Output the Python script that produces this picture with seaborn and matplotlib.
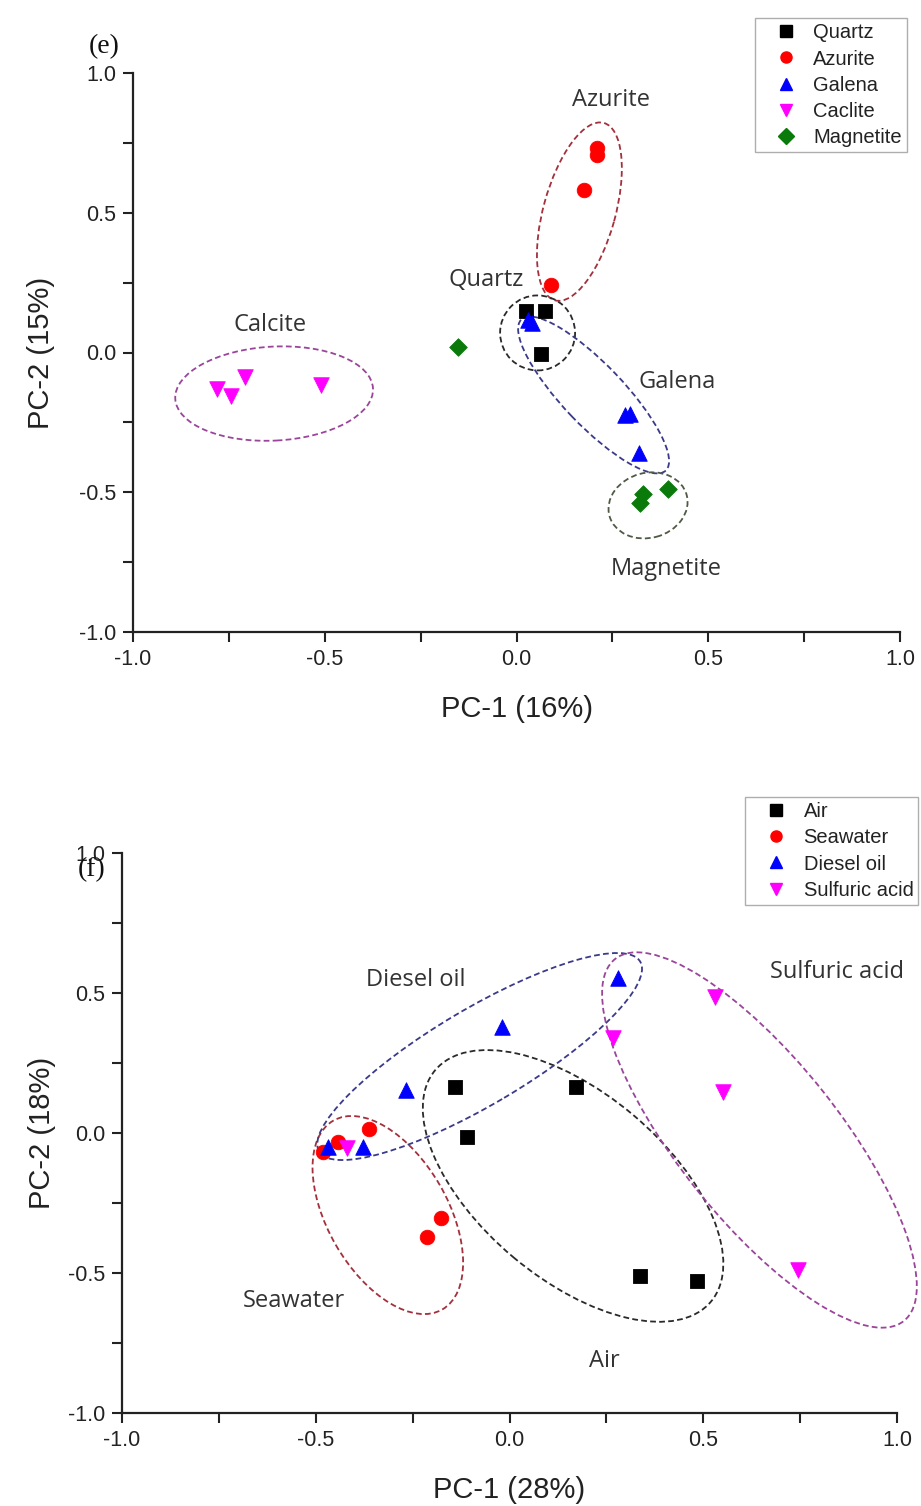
import numpy as np
import pandas as pd
import matplotlib
matplotlib.use("Agg")
import matplotlib.pyplot as plt
import matplotlib.transforms as mtransforms
from matplotlib.patches import Ellipse
from matplotlib.lines import Line2D
from matplotlib.ticker import MultipleLocator, FormatStrFormatter
import seaborn as sns

# ---------------- data: panel (e), minerals ----------------
e_groups = ["Quartz", "Azurite", "Galena", "Caclite", "Magnetite"]
quartz_pc1 = [0.025, 0.075, 0.065]
quartz_pc2 = [0.150, 0.150, -0.005]
azurite_pc1 = [0.210, 0.210, 0.176, 0.090]
azurite_pc2 = [0.733, 0.705, 0.583, 0.240]
galena_pc1 = [0.030, 0.040, 0.283, 0.295, 0.320]
galena_pc2 = [0.115, 0.105, -0.225, -0.220, -0.360]
caclite_pc1 = [-0.781, -0.744, -0.708, -0.510]
caclite_pc2 = [-0.129, -0.154, -0.089, -0.118]
magnetite_pc1 = [-0.152, 0.330, 0.322, 0.395]
magnetite_pc2 = [0.018, -0.505, -0.537, -0.490]

# ---------------- data: panel (f), environments ----------------
f_groups = ["Air", "Seawater", "Diesel oil", "Sulfuric acid"]
air_pc1 = [-0.141, 0.172, -0.110, 0.337, 0.484]
air_pc2 = [0.164, 0.164, -0.014, -0.511, -0.529]
seawater_pc1 = [-0.481, -0.443, -0.363, -0.177, -0.213]
seawater_pc2 = [-0.068, -0.032, 0.014, -0.304, -0.371]
diesel_pc1 = [-0.468, -0.378, -0.267, -0.019, 0.280]
diesel_pc2 = [-0.050, -0.050, 0.154, 0.379, 0.554]
sulfuric_pc1 = [-0.419, 0.267, 0.530, 0.551, 0.745]
sulfuric_pc2 = [-0.054, 0.339, 0.486, 0.146, -0.489]

e_xlabel, e_ylabel = "PC-1 (16%)", "PC-2 (15%)"
f_xlabel, f_ylabel = "PC-1 (28%)", "PC-2 (18%)"

# ---------------- styling ----------------
colors = ["#000000", "#ff0000", "#0000ff", "#ff00ff", "#0a7a0a"]
e_markers = ["s", "o", "^", "v", "D"]
e_sizes = [90, 110, 125, 125, 80]
f_markers = ["s", "o", "^", "v"]
f_sizes = [90, 110, 125, 125]

DPI = 100
sns.set_theme(style="ticks")
plt.rcParams["font.family"] = ["Liberation Sans", "DejaVu Sans"]
plt.rcParams["axes.unicode_minus"] = False

fig = plt.figure(figsize=(9.21, 15.06), dpi=DPI)
W, H = 921.0, 1506.0


def px_axes(l, t, r, b):
    return fig.add_axes([l / W, 1 - b / H, (r - l) / W, (b - t) / H])


ax_e = px_axes(133, 73, 900, 632)
ax_f = px_axes(122, 853, 897, 1413)

e_df = pd.concat([
    pd.DataFrame({"PC1": quartz_pc1, "PC2": quartz_pc2, "group": "Quartz"}),
    pd.DataFrame({"PC1": azurite_pc1, "PC2": azurite_pc2, "group": "Azurite"}),
    pd.DataFrame({"PC1": galena_pc1, "PC2": galena_pc2, "group": "Galena"}),
    pd.DataFrame({"PC1": caclite_pc1, "PC2": caclite_pc2, "group": "Caclite"}),
    pd.DataFrame({"PC1": magnetite_pc1, "PC2": magnetite_pc2, "group": "Magnetite"}),
], ignore_index=True)

f_df = pd.concat([
    pd.DataFrame({"PC1": air_pc1, "PC2": air_pc2, "group": "Air"}),
    pd.DataFrame({"PC1": seawater_pc1, "PC2": seawater_pc2, "group": "Seawater"}),
    pd.DataFrame({"PC1": diesel_pc1, "PC2": diesel_pc2, "group": "Diesel oil"}),
    pd.DataFrame({"PC1": sulfuric_pc1, "PC2": sulfuric_pc2, "group": "Sulfuric acid"}),
], ignore_index=True)


def add_ellipse(ax, cx, cy, w_px, h_px, angle, color):
    """Dashed cluster outline: centre in data units, size in pixels."""
    tr = fig.dpi_scale_trans + mtransforms.ScaledTranslation(cx, cy, ax.transData)
    ax.add_patch(Ellipse((0, 0), w_px / DPI, h_px / DPI, angle=angle,
                         transform=tr, fill=False, edgecolor=color,
                         linewidth=1.3, linestyle=(0, (3.2, 1.8)),
                         clip_on=False, zorder=3))


def style_axes(ax, xlabel, ylabel, xl_coords, yl_coords):
    ax.set_xlim(-1, 1)
    ax.set_ylim(-1, 1)
    for s in ("top", "right"):
        ax.spines[s].set_visible(False)
    for s in ("left", "bottom"):
        ax.spines[s].set_linewidth(1.6)
        ax.spines[s].set_color("#222222")
    ax.xaxis.set_major_locator(MultipleLocator(0.5))
    ax.xaxis.set_minor_locator(MultipleLocator(0.25))
    ax.yaxis.set_major_locator(MultipleLocator(0.5))
    ax.yaxis.set_minor_locator(MultipleLocator(0.25))
    ax.xaxis.set_major_formatter(FormatStrFormatter("%.1f"))
    ax.yaxis.set_major_formatter(FormatStrFormatter("%.1f"))
    ax.tick_params(which="both", direction="out", length=7, width=1.5,
                   color="#222222")
    ax.tick_params(which="major", labelsize=15.5, labelcolor="#222222", pad=5)
    ax.set_xlabel(xlabel, fontsize=21, color="#222222")
    ax.set_ylabel(ylabel, fontsize=21, color="#222222")
    ax.xaxis.set_label_coords(*xl_coords)
    ax.yaxis.set_label_coords(*yl_coords)
    ax.set_facecolor("white")


def draw_points(ax, df, groups, markers, sizes):
    for g, c, m, s in zip(groups, colors, markers, sizes):
        sns.scatterplot(data=df[df["group"] == g], x="PC1", y="PC2",
                        color=c, marker=m, s=s, edgecolor=c, linewidth=0.6,
                        ax=ax, legend=False, zorder=4)


def add_legend(ax, groups, markers, anchor):
    handles = [Line2D([], [], linestyle="", marker=m, color=c,
                      markeredgecolor=c, markersize=8)
               for m, c in zip(markers, colors)]
    leg = ax.legend(handles, groups, loc="upper left", bbox_to_anchor=anchor,
                    borderaxespad=0, frameon=True, fancybox=False,
                    edgecolor="#9a9a9a", fontsize=14.5, handlelength=2.6,
                    handletextpad=0.05, labelspacing=0.36, borderpad=0.25)
    leg.get_frame().set_linewidth(1.0)
    for t in leg.get_texts():
        t.set_color("#222222")
    return leg


label_kw = dict(fontsize=17, color="#333333", ha="center", va="center",
                family=["Open Sans", "DejaVu Sans"], zorder=5)

# ---------------- panel (e) ----------------
draw_points(ax_e, e_df, e_groups, e_markers, e_sizes)
style_axes(ax_e, e_xlabel, e_ylabel, (0.5, -0.113), (-0.102, 0.5))
add_ellipse(ax_e, 0.164, 0.504, 184, 72, 74.6, "#a3303c")
add_ellipse(ax_e, 0.055, 0.070, 75, 75, 0, "#2a2a2a")
add_ellipse(ax_e, 0.201, -0.152, 209, 61, -46.3, "#3a3a8a")
add_ellipse(ax_e, 0.343, -0.547, 80, 65, 15, "#4f5a45")
add_ellipse(ax_e, -0.632, -0.147, 198, 94, 3, "#9a459a")
ax_e.text(0.246, 0.905, "Azurite", **label_kw)
ax_e.text(-0.080, 0.258, "Quartz", **label_kw)
ax_e.text(-0.643, 0.097, "Calcite", **label_kw)
ax_e.text(0.419, -0.104, "Galena", **label_kw)
ax_e.text(0.390, -0.773, "Magnetite", **label_kw)
add_legend(ax_e, e_groups, e_markers, (0.811, 1.098))

# ---------------- panel (f) ----------------
draw_points(ax_f, f_df, f_groups, f_markers, f_sizes)
style_axes(ax_f, f_xlabel, f_ylabel, (0.5, -0.113), (-0.085, 0.5))
add_ellipse(ax_f, -0.314, -0.293, 218, 120, -60, "#a3303c")
add_ellipse(ax_f, 0.164, -0.189, 360, 186, -40, "#2a2a2a")
add_ellipse(ax_f, -0.077, 0.273, 373, 96, 30.6, "#3a3a8a")
add_ellipse(ax_f, 0.645, -0.025, 463, 160, -51.4, "#9a459a")
ax_f.text(-0.241, 0.546, "Diesel oil", **label_kw)
ax_f.text(0.845, 0.575, "Sulfuric acid", **label_kw)
ax_f.text(-0.556, -0.600, "Seawater", **label_kw)
ax_f.text(0.246, -0.814, "Air", **label_kw)
add_legend(ax_f, f_groups, f_markers, (0.804, 1.100))

# panel letters
serif = ["Liberation Serif", "DejaVu Serif"]
fig.text(104 / W, 1 - 47 / H, "(e)", fontsize=20, family=serif,
         ha="center", va="center", color="#111111")
fig.text(92 / W, 1 - 870 / H, "(f)", fontsize=20, family=serif,
         ha="center", va="center", color="#111111")

fig.savefig("out.png", dpi=DPI, facecolor="white")
